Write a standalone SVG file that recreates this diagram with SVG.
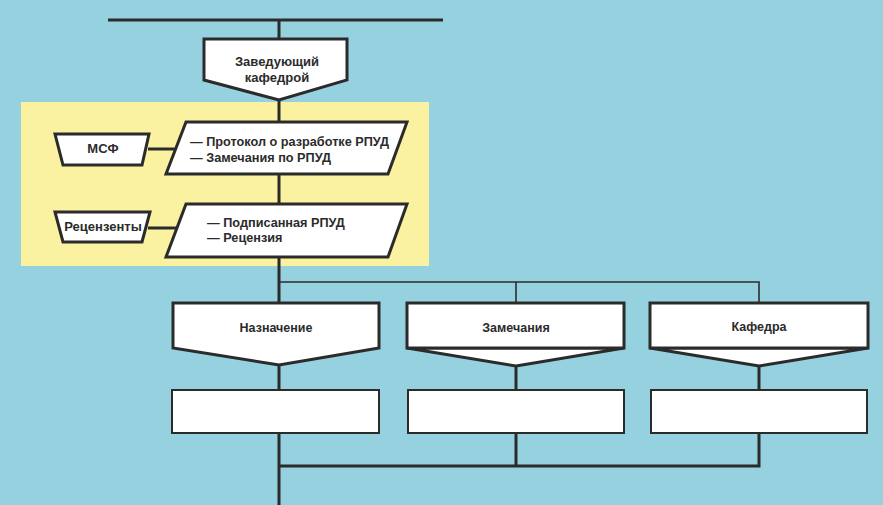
<svg xmlns="http://www.w3.org/2000/svg" width="883" height="505" viewBox="0 0 883 505">
<style>
.shape{fill:#ffffff;stroke:#2b2b2b;stroke-width:3;stroke-linejoin:miter}
.box2{fill:#ffffff;stroke:#2b2b2b;stroke-width:2}
.con{fill:none;stroke:#2b2b2b;stroke-width:3}
.thin{fill:none;stroke:#2b2b2b;stroke-width:1.6}
text{font-family:"Liberation Sans",Arial,sans-serif;font-weight:bold;font-size:13px;fill:#2b2b2b}
.c{text-anchor:middle}
.s{font-size:12.5px}
.p{font-size:12.7px}
</style>
<rect x="0" y="0" width="883" height="505" fill="#96d1e0"/>
<rect x="21" y="102" width="408" height="164" fill="#faf2a0"/>
<g id="connectors">
<line class="con" x1="108" y1="20" x2="443" y2="20"/>
<line class="con" x1="279" y1="20" x2="279" y2="40"/>
<line class="con" x1="279" y1="100" x2="279" y2="505"/>
<line class="con" x1="148" y1="149" x2="176" y2="149"/>
<line class="con" x1="148" y1="228" x2="177" y2="228"/>
<polyline class="thin" points="279,282 759,282 759,303"/>
<line class="thin" x1="516" y1="282" x2="516" y2="303"/>
<line class="con" x1="516" y1="366" x2="516" y2="390"/>
<line class="con" x1="759" y1="366" x2="759" y2="390"/>
<line class="con" x1="516" y1="433" x2="516" y2="466"/>
<polyline class="con" points="279,466 759,466 759,433"/>
</g>
<g id="zav">
<polygon class="shape" points="204,39 347,39 347,80 279,100 204,80"/>
<text class="c" x="277" y="66">Заведующий</text>
<text class="c" x="277" y="82">кафедрой</text>
</g>
<g id="msf">
<polygon class="shape" points="55,134 149,134 142,165 63,165"/>
<text class="c" x="103" y="153">МСФ</text>
</g>
<g id="protocol">
<polygon class="shape" points="186,122 407,122 388,174 166,174"/>
<text class="p" x="190" y="146">— Протокол о разработке РПУД</text>
<text class="p" x="190" y="162">— Замечания по РПУД</text>
</g>
<g id="recenzenty">
<polygon class="shape" points="55,212 150,212 142,242 63,242"/>
<text class="c" x="103" y="231">Рецензенты</text>
</g>
<g id="podpis">
<polygon class="shape" points="186,204 407,204 388,257 166,257"/>
<text class="p" x="207" y="227">— Подписанная РПУД</text>
<text class="p" x="207" y="242">— Рецензия</text>
</g>
<g id="naznachenie">
<polygon class="shape" points="173,303 379,303 379,348 279,365 173,348"/>
<text class="c s" x="276" y="332">Назначение</text>
</g>
<g id="zamechaniya">
<polygon class="shape" points="407,348 624,348 516,366"/>
<rect class="shape" x="407" y="303" width="217" height="45"/>
<text class="c s" x="516" y="332">Замечания</text>
</g>
<g id="kafedra">
<polygon class="shape" points="650,348 868,348 759,366"/>
<rect class="shape" x="650" y="303" width="218" height="45"/>
<text class="c s" x="759" y="331">Кафедра</text>
</g>
<g id="box1"><rect class="box2" x="172" y="390" width="207" height="43"/></g>
<g id="box2"><rect class="box2" x="408" y="390" width="216" height="43"/></g>
<g id="box3"><rect class="box2" x="651" y="390" width="216" height="43"/></g>
</svg>
